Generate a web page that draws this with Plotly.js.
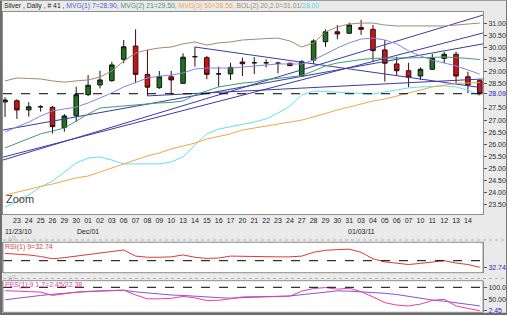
<!DOCTYPE html>
<html><head><meta charset="utf-8">
<script src="https://cdn.plot.ly/plotly-3.0.1.min.js"></script>
<style>html,body{margin:0;padding:0;background:#eaeaea;overflow:hidden}#chart{width:507px;height:315px}</style>
</head><body><div id="chart"></div>
<script>
// ---------- data ----------
const days = ['22','23','24','25','26','29','30','01','02','03','06','07','08','09','10','13','14','15','16','17','20','21','22','23','24','27','28','29','30','31','03','04','05','06','07','10','11','12','13','14','17'];
const monthLabels = ['11/23/10','Dec/01','01/03/11'];
const monthLabelIdx = [1, 7, 30];
const opens  = [27.75,27.80,27.42,27.55,27.53,26.69,27.18,28.05,28.45,28.63,29.51,30.06,28.89,28.34,28.79,28.52,29.62,29.58,28.91,28.91,29.40,29.37,29.37,29.35,29.35,28.83,29.48,30.24,30.65,30.59,30.83,30.75,29.90,29.32,29.04,28.82,29.10,29.55,29.72,28.79,28.63];
const highs  = [27.95,27.86,27.74,27.62,27.58,27.25,28.38,28.86,29.04,29.41,30.31,30.75,29.90,29.03,29.03,29.76,30.03,29.65,29.21,29.37,29.58,29.60,29.51,29.41,29.37,29.48,30.34,30.75,30.93,31.03,31.14,30.93,30.31,29.62,29.37,29.18,29.73,29.83,29.83,29.00,28.69];
const lows   = [27.13,27.05,27.14,27.35,26.45,26.52,26.93,28.00,28.31,28.59,29.35,28.52,28.00,28.29,28.04,28.49,29.21,28.69,28.38,28.66,28.82,28.90,29.18,28.93,29.23,28.79,29.31,30.03,30.34,30.56,30.52,29.41,28.59,28.83,28.36,28.66,29.07,29.35,28.52,28.11,28.04];
const closes = [27.83,27.42,27.55,27.55,26.73,27.17,28.05,28.44,28.66,29.28,30.03,28.89,28.36,28.79,28.66,29.60,29.62,28.89,28.91,29.18,29.33,29.37,29.37,29.35,29.25,29.41,30.27,30.65,30.56,30.93,30.75,29.87,29.35,29.04,28.77,29.10,29.55,29.72,28.82,28.45,28.09];
const mvg7   = [26.51,26.71,26.92,27.17,27.38,27.46,27.54,27.71,27.91,28.12,28.37,28.57,28.74,28.82,28.86,28.95,29.11,29.15,29.15,29.15,29.19,29.24,29.28,29.32,29.32,29.32,29.48,29.73,29.98,30.19,30.35,30.39,30.31,30.15,29.86,29.65,29.48,29.36,29.24,29.07,28.90];
const mvg21  = [25.85,26.05,26.26,26.43,26.55,26.67,26.96,27.25,27.50,27.54,27.60,27.65,27.67,27.71,27.73,27.79,28.04,28.20,28.37,28.45,28.53,28.57,28.68,28.72,28.78,28.84,29.03,29.24,29.36,29.44,29.50,29.55,29.57,29.57,29.57,29.57,29.59,29.61,29.59,29.55,29.50];
const mvg50  = [23.90,24.03,24.15,24.26,24.36,24.48,24.61,24.69,24.86,25.02,25.19,25.35,25.52,25.64,25.81,25.93,26.05,26.22,26.34,26.43,26.59,26.67,26.76,26.84,26.92,27.00,27.13,27.29,27.42,27.54,27.67,27.79,27.87,28.00,28.12,28.24,28.37,28.45,28.51,28.53,28.56];
const bolUpper = [28.62,28.74,28.72,28.70,28.62,28.57,28.62,28.66,28.78,29.03,29.44,29.77,29.90,29.98,30.02,30.15,30.23,30.10,30.19,30.23,30.31,30.35,30.37,30.39,30.27,30.02,30.19,30.64,30.85,30.97,31.01,31.01,30.93,30.89,30.89,30.89,30.89,30.89,30.93,30.97,31.01];
const bolLower = [23.41,23.62,23.91,24.24,24.48,24.86,25.23,25.43,25.48,25.35,25.19,25.19,25.19,25.19,25.27,25.48,25.97,26.43,26.63,26.72,26.84,26.92,27.05,27.29,27.58,28.04,28.20,28.18,28.16,28.12,28.10,28.08,28.16,28.24,28.33,28.37,28.39,28.41,28.37,28.24,28.00];
// trend lines: [x index start, x index end], [price start, price end]
const trendA_x = [-0.17, 40.27], trendA_y = [26.59, 30.15];
const trendB_x = [-0.17, 40.27], trendB_y = [25.47, 30.60];
const trendC_x = [-0.17, 40.27], trendC_y = [25.35, 31.34];
const trendD_x = [16, 40.27],    trendD_y = [30.02, 28.33];
const trendE_x = [12, 40.27],    trendE_y = [28.00, 28.70];
const rsi    = [69,67,65,61,55,58,62,66,70,74,78,62,59,59,60,65,59,56,57,62,61,61,60,60,60,62,72,77,79,80,72,55,47,44,40,43,46,50,44,40,32.74];
const pesK   = [86,85,84,80,66,72,80,82,84,86,88,68,52,52,54,62,56,45,46,52,60,61,61,61,63,84,95,99,92,96,82,60,36,26,22,30,45,50,22,12,2.45];
const pesD   = [48,55,61,66,71,76,81,83,85,87,88,81,76,72,68,66,62,60,57,55,56,58,60,62,64,69,76,80,85,84,82,79,75,70,62,55,47,42,35,29,22.38];
const priceTicks = [31,30.5,30,29.5,29,28.5,27.5,27,26.5,26,25.5,25,24.5,24,23.5];
const rsiRef = 50, pesRef = 100, pesTicks = [100, 50];

// ---------- layout helpers ----------
const W = 507, H = 315, ML = 3, MR = 24;
const ax = px => (px - ML) / (W - ML - MR);
const ay = py => 1 - py / H;
const idx = days.map((d, i) => i);
const last = a => a[a.length - 1];
const f2 = v => v.toFixed(2);
const BLUE = '#2626c8';

const line = (x, y, color, yaxis, w) => ({type:'scatter', mode:'lines', x, y, yaxis: yaxis || 'y', xaxis:'x',
  line:{color, width: w || 1}, hoverinfo:'skip'});

const traces = [
  line(trendA_x, trendA_y, '#3b3ba8'),
  line(trendB_x, trendB_y, '#3b3ba8'),
  line(trendC_x, trendC_y, '#3b3ba8'),
  line(trendD_x, trendD_y, '#3b3ba8'),
  line(trendE_x, trendE_y, '#3b3ba8'),
  line(idx, bolUpper, '#a8896c'),
  line(idx, bolLower, '#5fe3ea'),
  line(idx, mvg50, '#f2a648'),
  line(idx, mvg21, '#3f9c78'),
  line(idx, mvg7, '#8585e6'),
  {type:'candlestick', x: idx, open: opens, high: highs, low: lows, close: closes, xaxis:'x', yaxis:'y',
   increasing:{line:{color:'#151515', width:1}, fillcolor:'#1d741d'},
   decreasing:{line:{color:'#3a0a0a', width:1}, fillcolor:'#c41616'},
   whiskerwidth:0, hoverinfo:'skip'},
  line(idx, rsi, '#d43c3c', 'y2'),
  line(idx, pesD, '#8a52d8', 'y3'),
  line(idx, pesK, '#e6409c', 'y3'),
];

const tickLabelIdx = idx.slice(1, idx.length - 1);
const yTickVals = priceTicks.concat([last(closes)]);
const yTickText = priceTicks.map(f2).concat(['<span style="color:' + BLUE + '">' + f2(last(closes)) + '</span>']);

const frame = '#8e8e8e';
const shapes = [
  {type:'line', xref:'paper', yref:'y', x0:0, x1:1, y0:last(closes), y1:last(closes), line:{color:'#000', width:1, dash:'dash'}, layer:'above'},
  {type:'line', xref:'paper', yref:'y2', x0:0, x1:1, y0:rsiRef, y1:rsiRef, line:{color:'#000', width:1, dash:'dash'}, layer:'above'},
  {type:'line', xref:'paper', yref:'y3', x0:0, x1:1, y0:pesRef, y1:pesRef, line:{color:'#000', width:1, dash:'dash'}, layer:'above'},
  {type:'rect', xref:'paper', yref:'paper', x0:0, x1:1, y0:ay(272.7), y1:ay(242.3), line:{color:frame, width:1}, layer:'above'},
  {type:'rect', xref:'paper', yref:'paper', x0:0, x1:1, y0:ay(312.3), y1:ay(280.7), line:{color:frame, width:1}, layer:'above'},
  {type:'line', xref:'paper', yref:'paper', x0:ax(3), x1:ax(507), y0:ay(240), y1:ay(240), line:{color:'#b4b4b4', width:1, dash:'dot'}},
  {type:'line', xref:'paper', yref:'paper', x0:ax(3), x1:ax(507), y0:ay(278.5), y1:ay(278.5), line:{color:'#b4b4b4', width:1, dash:'dot'}},
  {type:'rect', xref:'paper', yref:'paper', x0:ax(0), x1:ax(2), y0:ay(315), y1:ay(0), fillcolor:'#6d6d6d', line:{width:0}, layer:'above'},
  {type:'rect', xref:'paper', yref:'paper', x0:ax(0), x1:ax(507), y0:ay(315), y1:ay(312.8), fillcolor:'#6d6d6d', line:{width:0}, layer:'above'},
  {type:'line', xref:'paper', yref:'paper', x0:ax(506.5), x1:ax(506.5), y0:ay(315), y1:ay(0), line:{color:'#7a7a7a', width:1}, layer:'above'},
  {type:'line', xref:'paper', yref:'paper', x0:ax(0), x1:ax(507), y0:ay(0.5), y1:ay(0.5), line:{color:'#9a9a9a', width:1}, layer:'above'},
];

const header = 'Silver , Daily , # 41 , ' +
  '<span style="color:#5c5cd0">MVG(1) 7=' + f2(last(mvg7)) + ', </span>' +
  '<span style="color:#3f9c78">MVG(2) 21=' + f2(last(mvg21)) + ', </span>' +
  '<span style="color:#f2a648">MVG(3) 50=' + f2(last(mvg50)) + ', </span>' +
  '<span style="color:#a8896c">BOL(2) 20,2.0=' + f2(last(bolUpper)) + '/</span>' +
  '<span style="color:#4fd8e0">' + f2(last(bolLower)) + '</span>';

const annotations = [
  {xref:'paper', yref:'paper', x:ax(2), y:ay(5.5), xanchor:'left', yanchor:'middle', text:header, showarrow:false, font:{size:6.8, color:'#222'}},
  {xref:'paper', yref:'paper', x:ax(4), y:ay(199), xanchor:'left', yanchor:'middle', text:'Zoom', showarrow:false, font:{size:11, color:'#3c3c3c'}},
  {xref:'paper', yref:'paper', x:ax(3), y:ay(246.5), xanchor:'left', yanchor:'middle', showarrow:false,
   text:'RSI(1) 9=' + f2(last(rsi)), font:{size:7, color:'#d43c3c'}},
  {xref:'paper', yref:'paper', x:ax(3), y:ay(285), xanchor:'left', yanchor:'middle', showarrow:false,
   text:'PES(1) 9 1.7=' + f2(last(pesK)) + '/' + f2(last(pesD)), font:{size:7, color:'#e6409c'}},
  {xref:'paper', yref:'paper', x:ax(6), y:ay(238.5), xanchor:'left', yanchor:'middle', showarrow:false, text:'△▽', font:{size:4.5, color:'#777'}},
  {xref:'paper', yref:'paper', x:ax(6), y:ay(277), xanchor:'left', yanchor:'middle', showarrow:false, text:'△▽', font:{size:4.5, color:'#777'}},
];
monthLabels.forEach((t, k) => {
  annotations.push({xref: k === 0 ? 'paper' : 'x', yref:'paper', x: k === 0 ? ax(3) : monthLabelIdx[k], y: ay(231.5),
    xanchor: k === 0 ? 'left' : 'center', yanchor:'middle', text:t, showarrow:false, font:{size:7, color:'#222'}});
});

const yBase = {showgrid:false, zeroline:false, side:'right', anchor:'x', showline:true, mirror:true, linecolor:frame, linewidth:1,
  ticks:'outside', ticklen:3, tickcolor:'#555', tickfont:{size:7, color:'#2a2a2a'}, fixedrange:true};

const layout = {
  width:W, height:H, margin:{l:ML, r:MR, t:0, b:0, pad:0},
  paper_bgcolor:'#eaeaea', plot_bgcolor:'#ffffff', showlegend:false, boxgap:0.45,
  font:{family:'Liberation Sans, Arial, sans-serif', size:7, color:'#222'},
  xaxis:{domain:[0,1], anchor:'y', range:[-0.17, 40.27], showgrid:false, zeroline:false, rangeslider:{visible:false},
    tickmode:'array', tickvals:tickLabelIdx, ticktext:tickLabelIdx.map(i => days[i]), ticks:'', tickangle:0,
    tickfont:{size:7, color:'#222'}, showline:true, mirror:true, linecolor:frame, linewidth:1, fixedrange:true},
  yaxis:Object.assign({}, yBase, {domain:[ay(214), ay(12)], range:[23.12, 31.467], tickmode:'array', tickvals:yTickVals, ticktext:yTickText}),
  yaxis2:Object.assign({}, yBase, {domain:[ay(272.7), ay(242.3)], range:[18.7, 98], tickmode:'array', tickvals:[last(rsi)], ticktext:[f2(last(rsi))], tickfont:{size:7, color:BLUE}}),
  yaxis3:Object.assign({}, yBase, {domain:[ay(312.3), ay(280.7)], range:[-4.2, 127.5], tickmode:'array',
    tickvals:pesTicks.concat([last(pesK)]), ticktext:['100.0','50.00','<span style="color:' + BLUE + '">' + f2(last(pesK)) + '</span>']}),
  shapes, annotations
};

Plotly.newPlot('chart', traces, layout, {displayModeBar:false, staticPlot:true});
</script></body></html>
